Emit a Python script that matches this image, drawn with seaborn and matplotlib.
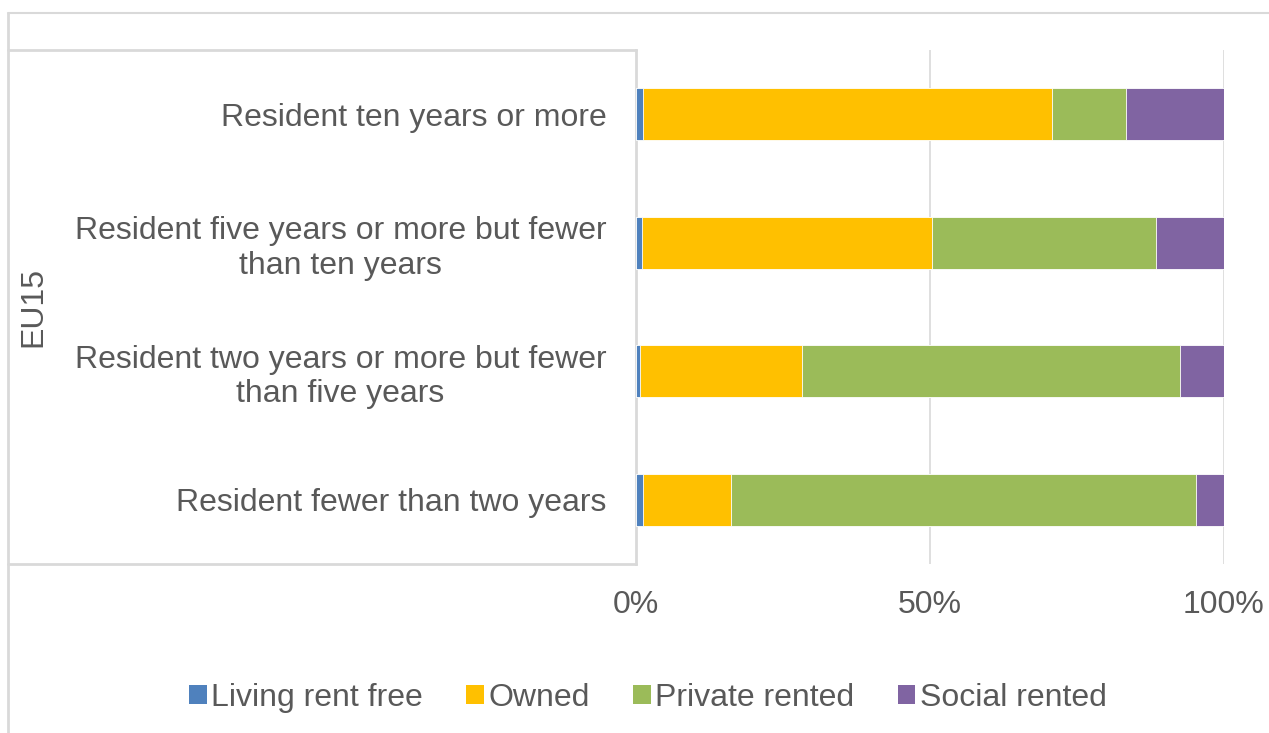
import matplotlib
matplotlib.use("Agg")
import matplotlib.pyplot as plt
import seaborn as sns
import pandas as pd
import numpy as np
from matplotlib.lines import Line2D
from matplotlib.patches import Patch

# data (shares in %)
categories = [
    "Resident ten years or more",
    "Resident five years or more but fewer\nthan ten years",
    "Resident two years or more but fewer\nthan five years",
    "Resident fewer than two years",
]
series_names = ["Living rent free", "Owned", "Private rented", "Social rented"]
living_rent_free = [1.3, 1.1, 0.8, 1.3]
owned = [69.5, 49.3, 27.5, 14.9]
private_rented = [12.7, 38.2, 64.3, 79.1]
social_rented = [16.5, 11.4, 7.4, 4.7]
colors = ["#4F81BD", "#FFC000", "#9BBB59", "#8064A2"]
group_label = "EU15"
x_ticks = [0, 50, 100]
x_ticklabels = ["0%", "50%", "100%"]

sns.set_theme(style="white")
plt.rcParams["font.family"] = ["Liberation Sans", "DejaVu Sans"]
text_col = "#595959"
line_col = "#D9D9D9"
fs = 23

df = pd.DataFrame({"category": categories,
                   series_names[0]: living_rent_free,
                   series_names[1]: owned,
                   series_names[2]: private_rented,
                   series_names[3]: social_rented})
cum = np.cumsum(df[series_names].to_numpy(), axis=1)
cum = cum / cum[:, -1:] * 100

W, H = 1269, 733
fig = plt.figure(figsize=(W / 100, H / 100), dpi=100)
ax = fig.add_axes([635.5 / W, 1 - 564 / H, 588 / W, 514 / H])

# stacked bars: draw cumulative totals from the largest down
for i in range(len(series_names) - 1, -1, -1):
    sns.barplot(x=cum[:, i], y=df["category"], orient="h", color=colors[i],
                width=0.405, edgecolor="white", linewidth=0.6, saturation=1,
                ax=ax, zorder=3)

ax.set_xlim(0, 100)
ax.set_ylim(3.5, -0.5)
ax.set_xticks(x_ticks)
ax.set_xticklabels(x_ticklabels)
ax.xaxis.grid(True, color=line_col, linewidth=1.2, zorder=0)
for s in ["top", "right", "bottom"]:
    ax.spines[s].set_visible(False)
ax.spines["left"].set_color(line_col)
ax.spines["left"].set_linewidth(2)
ax.set_xlabel("")
ax.set_ylabel("")
ax.tick_params(axis="x", length=0, pad=19, labelsize=fs, labelcolor=text_col)
ax.tick_params(axis="y", length=0, pad=21, labelsize=fs, labelcolor=text_col)
for t in ax.get_yticklabels():
    t.set_multialignment("center")
    t.set_linespacing(1.2)

# group label and table lines
fig.text(33 / W, 1 - 307 / H, group_label, rotation=90, ha="center", va="center",
         fontsize=fs, color=text_col)
fig.add_artist(Line2D([8 / W, 8 / W], [1 - 13 / H, 0], color=line_col, lw=2,
                      transform=fig.transFigure))
fig.add_artist(Line2D([8 / W, 1], [1 - 13 / H, 1 - 13 / H], color=line_col, lw=1.5,
                      transform=fig.transFigure))
for yy in [50, 564]:
    fig.add_artist(Line2D([8 / W, 635.5 / W], [1 - yy / H, 1 - yy / H], color=line_col,
                          lw=2, transform=fig.transFigure))

handles = [Patch(facecolor=c, edgecolor="none") for c in colors]
fig.legend(handles, series_names, loc="center", bbox_to_anchor=(648 / W, 1 - 698 / H),
           ncol=4, frameon=False, fontsize=fs, labelcolor=text_col,
           handlelength=0.55, handleheight=0.55, handletextpad=0.15, columnspacing=1.35)

fig.savefig("out.png", dpi=100)
